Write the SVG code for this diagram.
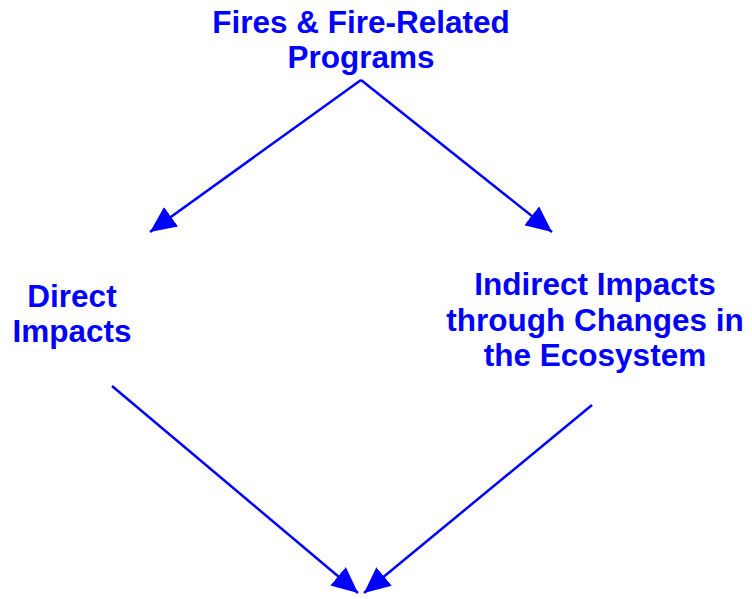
<svg xmlns="http://www.w3.org/2000/svg" width="752" height="599" viewBox="0 0 752 599">
<style>
.t{font-family:"Liberation Sans",Arial,sans-serif;font-weight:bold;font-size:31.5px;fill:#0000ff;text-anchor:middle}
.c{stroke:#0000ff;stroke-width:2.5;fill:none;marker-end:url(#ah)}
</style>
<defs>
<marker id="ah" markerUnits="userSpaceOnUse" markerWidth="28" markerHeight="24" refX="26" refY="12" orient="auto">
<path d="M0,0 L26,12 L0,24 z" fill="#0000ff"/>
</marker>
</defs>
<rect width="752" height="599" fill="#ffffff"/>
<g id="connectors">
<line class="c" x1="361" y1="80" x2="150" y2="232"/>
<line class="c" x1="361" y1="80" x2="552" y2="232"/>
<line class="c" x1="112" y1="386" x2="358" y2="593"/>
<line class="c" x1="592" y1="405" x2="364" y2="593"/>
</g>
<g id="fires">
<text class="t" x="361" y="33">Fires &amp; Fire-Related</text>
<text class="t" x="361" y="68">Programs</text>
</g>
<g id="direct">
<text class="t" x="72" y="307">Direct</text>
<text class="t" x="72" y="342">Impacts</text>
</g>
<g id="indirect">
<text class="t" x="595" y="295">Indirect Impacts</text>
<text class="t" x="595" y="331">through Changes in</text>
<text class="t" x="595" y="366">the Ecosystem</text>
</g>
</svg>
